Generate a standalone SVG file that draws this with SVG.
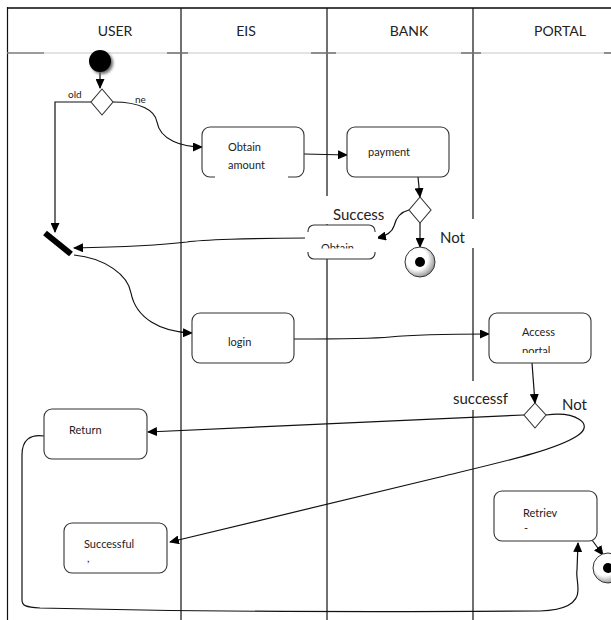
<svg xmlns="http://www.w3.org/2000/svg" width="611" height="620" viewBox="0 0 611 620">
  <style>
    .lane { stroke: #111; stroke-width: 1.2; fill: none; }
    .hdr { font-family: Lato, "Liberation Sans", sans-serif; font-size: 14px; fill: #222; text-anchor: middle; }
    .box { fill: #fff; stroke: #333; stroke-width: 1.1; }
    .txt { font-family: Lato, "Liberation Sans", sans-serif; font-size: 11px; fill: #222; }
    .lbl { font-family: Lato, "Liberation Sans", sans-serif; font-size: 10px; fill: #222; }
    .big { font-family: Lato, "Liberation Sans", sans-serif; font-size: 15px; fill: #222; }
    .edge { fill: none; stroke: #111; stroke-width: 1.2; }
    .arr { marker-end: url(#tip); }
    .dec { fill: #fff; stroke: #333; stroke-width: 1.1; }
    .bg { fill: #fff; stroke: none; }
  </style>
  <defs>
    <marker id="tip" markerUnits="userSpaceOnUse" markerWidth="10" markerHeight="9" refX="9" refY="4.5" orient="auto">
      <path d="M0,0 L10,4.5 L0,9 z" fill="#000"/>
    </marker>
    <radialGradient id="ring" cx="0.4" cy="0.4" r="0.65">
      <stop offset="0.55" stop-color="#ffffff"/>
      <stop offset="1" stop-color="#8a8a8a"/>
    </radialGradient>
    <filter id="soft" x="-50%" y="-50%" width="200%" height="200%">
      <feGaussianBlur stdDeviation="1.5"/>
    </filter>
    <clipPath id="clipObtain"><rect x="300" y="220" width="80" height="28.5"/></clipPath>
    <clipPath id="clipPortal"><rect x="480" y="310" width="120" height="43"/></clipPath>
  </defs>

  <!-- swimlane frame -->
  <g id="lanes">
    <line x1="7" y1="8" x2="611" y2="8" stroke="#444" stroke-width="1.8"/>
    <line x1="7.5" y1="7" x2="7.5" y2="620" class="lane"/>
    <line x1="181" y1="8" x2="181" y2="620" class="lane"/>
    <line x1="327" y1="8" x2="327" y2="620" class="lane"/>
    <line x1="473" y1="8" x2="473" y2="620" class="lane"/>
    <line x1="7" y1="53" x2="611" y2="53" stroke="#c8c8c8" stroke-width="1"/>
    <g stroke="#555" stroke-width="1.2">
      <line x1="7" y1="53" x2="44" y2="53"/>
      <line x1="167" y1="53" x2="188" y2="53"/>
      <line x1="311" y1="53" x2="336" y2="53"/>
      <line x1="461" y1="53" x2="481" y2="53"/>
      <line x1="604" y1="53" x2="611" y2="53"/>
    </g>
    <text x="115" y="36" class="hdr">USER</text>
    <text x="246" y="36" class="hdr">EIS</text>
    <text x="409" y="36" class="hdr">BANK</text>
    <text x="560" y="36" class="hdr">PORTAL</text>
  </g>

  <!-- label backgrounds that break the lane lines -->
  <g id="label-backgrounds">
    <rect x="320" y="196" width="70" height="28" class="bg"/>
    <rect x="437" y="219" width="41" height="29" class="bg"/>
    <rect x="450" y="381" width="66" height="29" class="bg"/>
  </g>

  <!-- connectors -->
  <g id="connectors">
    <path d="M100,72 L100,88" class="edge arr"/>
    <path d="M91,102 L55,102 L55,232" class="edge arr"/>
    <path d="M113,102 C140,102 155,110 157,122 C160,140 182,147 202,147" class="edge arr"/>
    <path d="M304,154 L347,155" class="edge arr"/>
    <path d="M418,177 L420,197" class="edge arr"/>
    <path d="M420,223 L420,247" class="edge arr"/>
    <path d="M409,210 C400,212 396,218 394,226 C392,233 386,236 377,238" class="edge arr"/>
    <path d="M308,238 C250,238 200,240 187,242 C170,244 120,247 74,248" class="edge arr"/>
    <path d="M74,255 C105,258 128,275 131,293 C136,318 160,332 192,333" class="edge arr"/>
    <path d="M294,339 C340,339 370,339 390,337 C410,335 450,334 489,334" class="edge arr"/>
    <path d="M532,363 L535,403" class="edge arr"/>
    <path d="M524,415 L148,432" class="edge arr"/>
    <path d="M546,415 C575,411 596,424 577,436 C555,450 510,460 440,477 L170,542" class="edge arr"/>
    <path d="M44,436 C30,434 22,440 22,455 L22,600 C22,606 26,607 40,608 C200,612 400,612 540,611 C570,610 578,600 578,590 C578,580 576,576 577,570 L578,543" class="edge arr"/>
    <path d="M592,540 L603,555" class="edge arr"/>
    <!-- join bar -->
    <line x1="45" y1="233" x2="71" y2="254" stroke="#000" stroke-width="6"/>
  </g>

  <!-- nodes -->
  <g id="start">
    <circle cx="102" cy="63" r="11" fill="#666" filter="url(#soft)"/>
    <circle cx="100" cy="61" r="11" fill="#000"/>
  </g>
  <g id="choice-user">
    <polygon points="102,89 113,102 102,115 91,102" class="dec"/>
    <text x="68" y="98" class="lbl">old</text>
    <text x="135" y="103" class="lbl">ne</text>
  </g>
  <g id="obtain-amount">
    <rect x="202" y="127" width="102" height="50" rx="8" class="box"/>
    <rect x="215" y="174" width="73" height="6" class="bg"/>
    <text x="228" y="151" class="txt">Obtain</text>
    <text x="228" y="169" class="txt">amount</text>
  </g>
  <g id="payment">
    <rect x="347" y="127" width="102" height="50" rx="8" class="box"/>
    <text x="368" y="156" class="txt">payment</text>
  </g>
  <g id="choice-bank">
    <polygon points="420,197 431,210 420,223 409,210" class="dec"/>
    <text x="333" y="220" class="big">Success</text>
    <text x="440" y="243" class="big">Not</text>
  </g>
  <g id="obtain">
    <rect x="308" y="225" width="67" height="34" rx="6" class="box"/>
    <rect x="305" y="232" width="73" height="20" class="bg"/>
    <text x="321" y="251.5" class="txt" clip-path="url(#clipObtain)">Obtain</text>
  </g>
  <g id="end-bank">
    <circle cx="420" cy="262" r="15" fill="url(#ring)" stroke="#333" stroke-width="1"/>
    <circle cx="420" cy="262" r="5" fill="#000"/>
  </g>
  <g id="login">
    <rect x="192" y="313" width="102" height="50" rx="8" class="box"/>
    <text x="228" y="346" class="txt">login</text>
  </g>
  <g id="access-portal">
    <rect x="489" y="313" width="102" height="50" rx="8" class="box"/>
    <text x="522" y="336" class="txt">Access</text>
    <text x="522" y="355" class="txt" clip-path="url(#clipPortal)">portal</text>
  </g>
  <g id="choice-portal">
    <polygon points="535,403 546,415 535,428 524,415" class="dec"/>
    <text x="453" y="404" class="big">successf</text>
    <text x="562" y="410" class="big">Not</text>
  </g>
  <g id="return">
    <rect x="44" y="409" width="103" height="50" rx="8" class="box"/>
    <text x="69" y="434" class="txt">Return</text>
  </g>
  <g id="successful">
    <rect x="64" y="523" width="103" height="50" rx="8" class="box"/>
    <text x="84" y="548" class="txt">Successful</text>
    <text x="87" y="562" class="txt">,</text>
  </g>
  <g id="retrieve">
    <rect x="494" y="491" width="103" height="50" rx="8" class="box"/>
    <text x="523" y="517" class="txt">Retriev</text>
    <text x="524" y="532" class="txt">-</text>
  </g>
  <g id="end-portal">
    <circle cx="608" cy="568" r="15" fill="url(#ring)" stroke="#333" stroke-width="1"/>
    <circle cx="608" cy="568" r="5" fill="#000"/>
  </g>
</svg>
